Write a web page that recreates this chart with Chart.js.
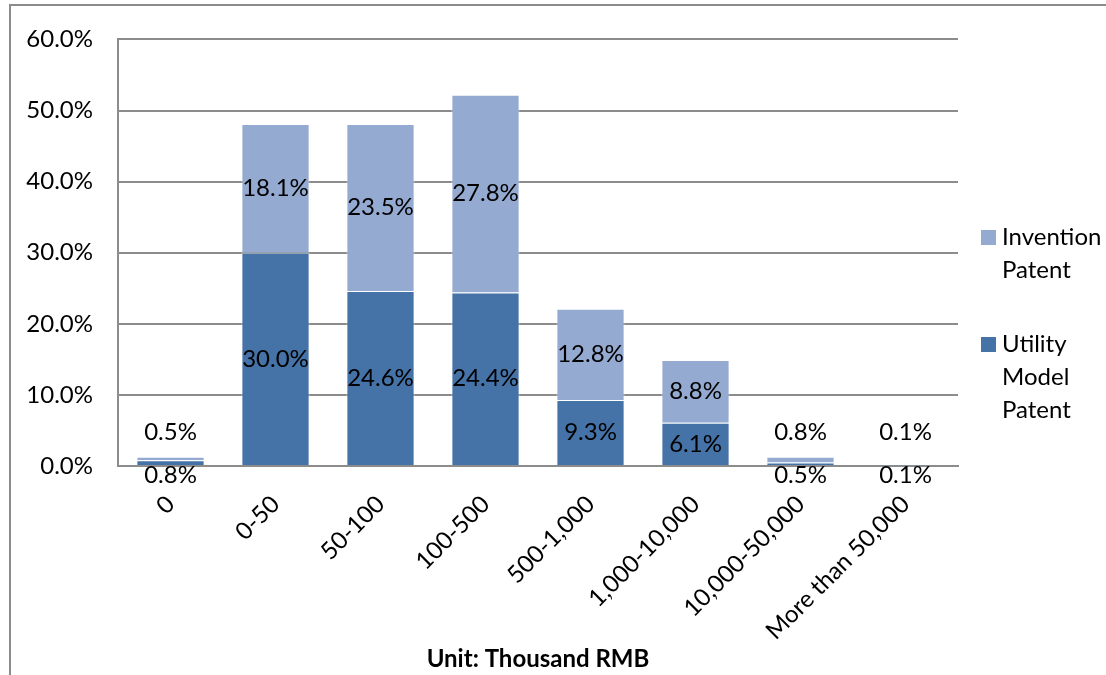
<!DOCTYPE html>
<html>
<head>
<meta charset="utf-8">
<script src="https://cdn.jsdelivr.net/npm/chart.js@4"></script>
<style>
  html, body { margin: 0; padding: 0; background: #fff; }
  #wrap { width: 1106px; height: 675px; }
</style>
</head>
<body>
<div id="wrap"><canvas id="patentChart" width="1106" height="675"></canvas></div>
<script>
// chart data
const categories = ['0', '0-50', '50-100', '100-500', '500-1,000', '1,000-10,000', '10,000-50,000', 'More than 50,000'];
const utilityValues = [0.8, 30.0, 24.6, 24.4, 9.3, 6.1, 0.5, 0.1];
const inventionValues = [0.5, 18.1, 23.5, 27.8, 12.8, 8.8, 0.8, 0.1];
const yTicks = [0, 10, 20, 30, 40, 50, 60];

const FONT = "Lato, 'Open Sans', sans-serif";
const DARK = '#4572a7';
const LIGHT = '#94aad1';
const GRID = '#8c8c8c';

// data labels: centered in the segment, small ones moved above / below the bar
const segmentLabels = {
    id: 'segmentLabels',
    afterDatasetsDraw(chart) {
        const ctx = chart.ctx;
        ctx.save();
        ctx.font = '24px ' + FONT;
        ctx.fillStyle = '#000';
        ctx.textAlign = 'center';
        ctx.textBaseline = 'middle';
        chart.data.datasets.forEach((ds, i) => {
            const meta = chart.getDatasetMeta(i);
            meta.data.forEach((bar, j) => {
                const txt = ds.data[j].toFixed(1) + '%';
                const h = Math.abs(bar.base - bar.y);
                let y;
                if (h > 22) y = (bar.y + bar.base) / 2;
                else if (i === 0) y = bar.base + 10;
                else y = chart.scales.y.getPixelForValue(0) - 34;
                ctx.fillText(txt, bar.x, y);
            });
        });
        ctx.restore();
    }
};

// outer frame and right side legend
const frameAndLegend = {
    id: 'frameAndLegend',
    beforeDraw(chart) {
        const ctx = chart.ctx;
        ctx.save();
        ctx.strokeStyle = GRID;
        ctx.lineWidth = 2;
        ctx.beginPath();
        ctx.moveTo(10, 675);
        ctx.lineTo(10, 5);
        ctx.lineTo(1106, 5);
        ctx.stroke();
        ctx.restore();
    },
    afterDraw(chart) {
        const ctx = chart.ctx;
        const items = [
            { color: LIGHT, lines: ['Invention', 'Patent'], y: 237 },
            { color: DARK, lines: ['Utility', 'Model', 'Patent'], y: 344 }
        ];
        ctx.save();
        ctx.font = '24px ' + FONT;
        ctx.textAlign = 'left';
        ctx.textBaseline = 'middle';
        items.forEach(it => {
            ctx.fillStyle = it.color;
            ctx.fillRect(981, it.y - 7, 15, 15);
            ctx.fillStyle = '#000';
            it.lines.forEach((ln, k) => ctx.fillText(ln, 1002, it.y + k * 33));
        });
        ctx.restore();
    }
};

new Chart(document.getElementById('patentChart'), {
    type: 'bar',
    data: {
        labels: categories,
        datasets: [
            {
                label: 'Utility Model Patent',
                data: utilityValues,
                backgroundColor: DARK,
                borderColor: 'rgba(255,255,255,0.45)',
                borderWidth: 1,
                barPercentage: 0.65,
                categoryPercentage: 1
            },
            {
                label: 'Invention Patent',
                data: inventionValues,
                backgroundColor: LIGHT,
                borderColor: 'rgba(255,255,255,0.45)',
                borderWidth: 1,
                barPercentage: 0.65,
                categoryPercentage: 1
            }
        ]
    },
    options: {
        responsive: false,
        animation: false,
        layout: { padding: { left: 10, top: 38, right: 148, bottom: 0 } },
        plugins: {
            legend: { display: false },
            tooltip: { enabled: false }
        },
        scales: {
            x: {
                stacked: true,
                grid: { display: false, drawTicks: false },
                border: { color: GRID, width: 2 },
                ticks: {
                    color: '#000',
                    font: { family: FONT, size: 24 },
                    maxRotation: 45,
                    minRotation: 45,
                    padding: 24,
                    autoSkip: false
                },
                title: {
                    display: true,
                    text: 'Unit: Thousand RMB',
                    color: '#000',
                    font: { family: FONT, size: 24, weight: 'bold' },
                    padding: { top: 0, bottom: 1 }
                },
                afterFit(scale) { scale.height = 675 - 466; }
            },
            y: {
                stacked: true,
                min: 0,
                max: 60,
                afterBuildTicks(scale) { scale.ticks = yTicks.map(v => ({ value: v })); },
                grid: { color: GRID, lineWidth: 2, drawTicks: false },
                border: { color: GRID, width: 2 },
                ticks: {
                    color: '#000',
                    font: { family: FONT, size: 24 },
                    padding: 25,
                    callback: v => v.toFixed(1) + '%'
                },
                afterFit(scale) { scale.width = 108; }
            }
        }
    },
    plugins: [segmentLabels, frameAndLegend]
});
</script>
</body>
</html>
